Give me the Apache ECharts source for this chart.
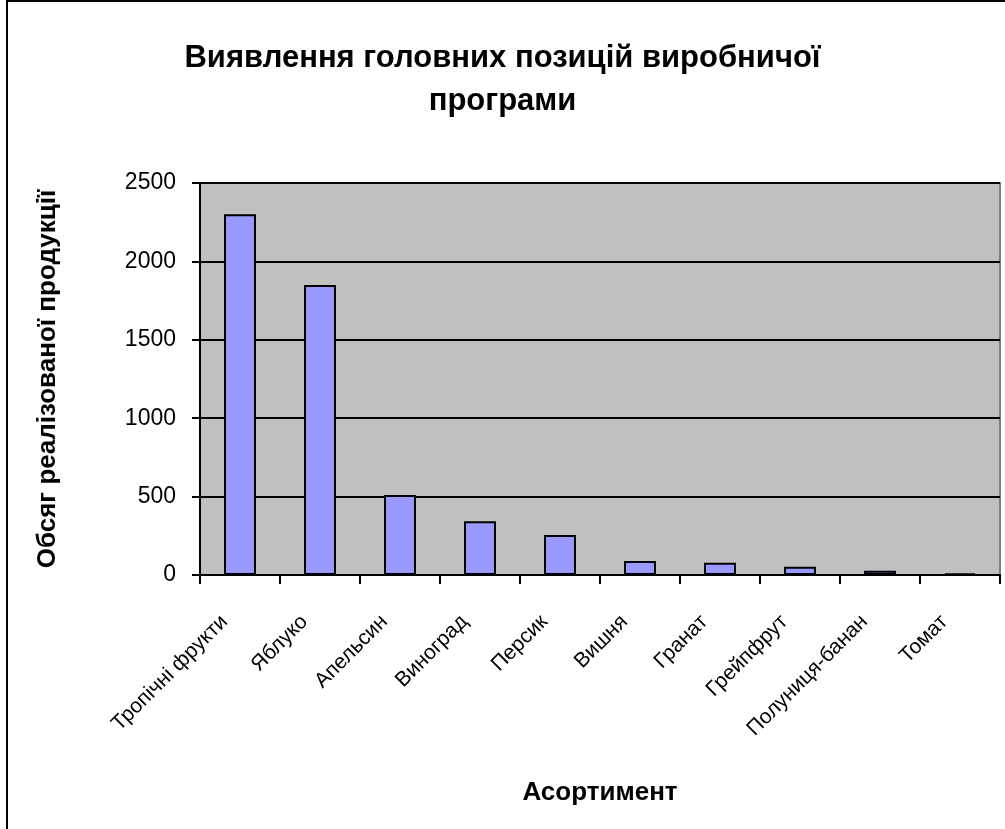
<!DOCTYPE html>
<html>
<head>
<meta charset="utf-8">
<script src="https://cdn.jsdelivr.net/npm/echarts@6/dist/echarts.min.js"></script>
<style>
  html, body { margin: 0; padding: 0; background: #fff; }
  #chart { width: 1005px; height: 829px; }
</style>
</head>
<body>
<div id="chart"></div>
<script>
// Асортимент і обсяги реалізованої продукції
const categories = ['Тропічні фрукти', 'Яблуко', 'Апельсин', 'Виноград', 'Персик', 'Вишня', 'Гранат', 'Грейпфрут', 'Полуниця-банан', 'Томат'];
const volumes = [2300, 1850, 510, 343, 255, 90, 78, 53, 27, 10];
const yTicks = [0, 500, 1000, 1500, 2000, 2500];

const titleText = 'Виявлення головних позицій виробничої\nпрограми';
const yName = 'Обсяг реалізованої продукції';
const xName = 'Асортимент';

const FONT = 'Liberation Sans, Arial, sans-serif';

const chart = echarts.init(document.getElementById('chart'), null, { renderer: 'canvas' });

chart.setOption({
  animation: false,
  backgroundColor: '#ffffff',
  title: {
    text: titleText,
    left: 'center',
    top: 32,
    textStyle: { fontFamily: FONT, fontSize: 31, fontWeight: 'bold', color: '#000', lineHeight: 43 }
  },
  grid: { left: 200, right: 5, top: 183, bottom: 254, containLabel: false,
          show: true, backgroundColor: '#c0c0c0', borderColor: '#808080', borderWidth: 2 },
  xAxis: {
    type: 'category',
    data: categories,
    name: xName,
    nameLocation: 'middle',
    nameGap: 205,
    nameTextStyle: { fontFamily: FONT, fontSize: 26, fontWeight: 'bold', color: '#000' },
    axisLine: { show: true, lineStyle: { color: '#000', width: 2 } },
    axisTick: { show: true, alignWithLabel: false, length: 9, lineStyle: { color: '#000', width: 2 } },
    axisLabel: { rotate: 45, fontFamily: FONT, fontSize: 21, color: '#000', margin: 28,
                 padding: [0, 22, 0, 0], interval: 0 },
    splitLine: { show: false }
  },
  yAxis: {
    type: 'value',
    min: yTicks[0],
    max: yTicks[yTicks.length - 1],
    interval: yTicks[1] - yTicks[0],
    name: yName,
    nameLocation: 'middle',
    nameGap: 139,
    nameTextStyle: { fontFamily: FONT, fontSize: 26, fontWeight: 'bold', color: '#000' },
    axisLine: { show: true, lineStyle: { color: '#000', width: 2 } },
    axisTick: { show: true, length: 8, lineStyle: { color: '#000', width: 2 } },
    axisLabel: { fontFamily: FONT, fontSize: 23, color: '#000', margin: 24,
                 formatter: v => String(v) },
    splitLine: { show: true, lineStyle: { color: '#000', width: 2 } }
  },
  series: [{
    type: 'bar',
    data: volumes,
    barWidth: '40%',
    itemStyle: { color: '#9999ff', borderColor: '#000', borderWidth: 2 }
  }],
  graphic: [{
    type: 'rect',
    shape: { x: 7, y: 1, width: 1100, height: 900 },
    style: { fill: 'none', stroke: '#000', lineWidth: 2 },
    silent: true,
    z: 100
  }]
});
</script>
</body>
</html>
